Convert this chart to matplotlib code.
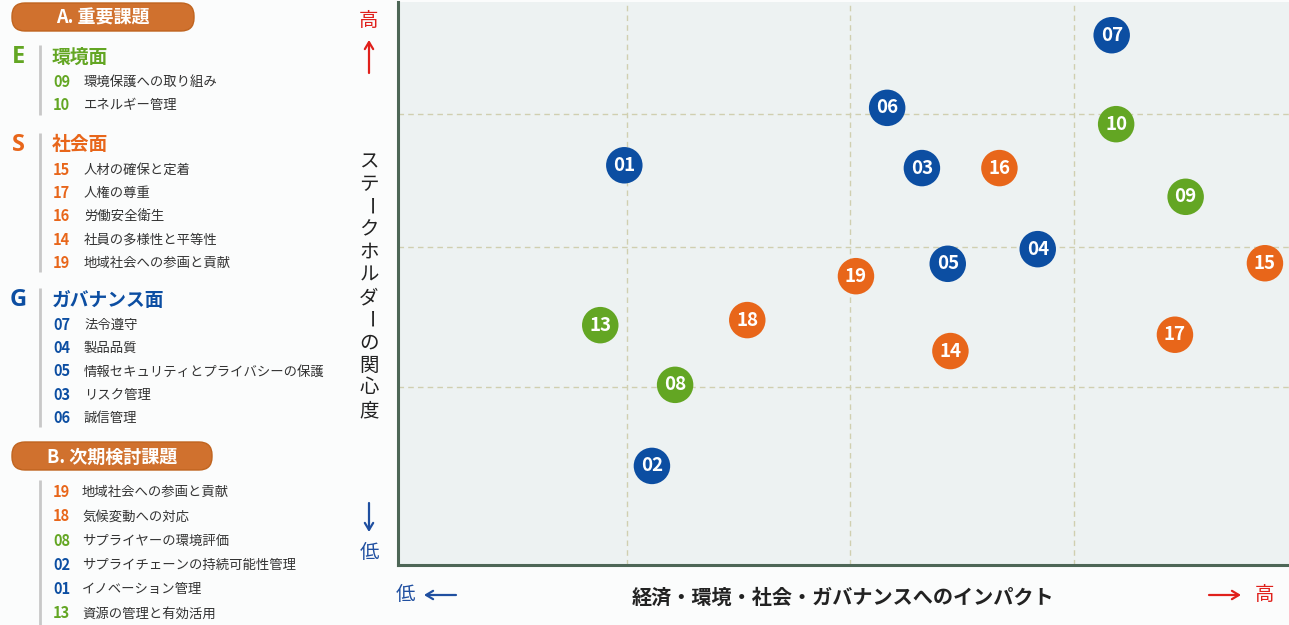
import matplotlib.pyplot as plt
from matplotlib.patches import FancyBboxPatch

plt.rcParams['font.family'] = ['Noto Sans CJK JP', 'DejaVu Sans']

# --- data -------------------------------------------------------------
issue_ids = ['07', '06', '10', '01', '03', '16', '09', '04', '05',
             '15', '19', '13', '18', '17', '14', '08', '02']
impact = [80.1, 54.9, 80.6, 25.4, 58.8, 67.5, 88.4, 71.8, 61.7,
          97.3, 51.4, 22.7, 39.2, 87.2, 62.0, 31.1, 28.5]
concern = [94.1, 81.2, 78.3, 71.0, 70.5, 70.5, 65.4, 56.1, 53.5,
           53.6, 51.3, 42.6, 43.5, 40.9, 38.0, 32.0, 17.6]
issue_cat = ['G', 'G', 'E', 'G', 'G', 'S', 'E', 'G', 'G',
             'S', 'S', 'E', 'S', 'S', 'S', 'E', 'G']

grid_x = [25.7, 50.7, 75.9]
grid_y = [31.6, 56.5, 80.1]

cat_colors = {'E': '#63a623', 'S': '#e8661a', 'G': '#0c4ea2'}

e_nums = ['09', '10']
e_items = ['環境保護への取り組み', 'エネルギー管理']
s_nums = ['15', '17', '16', '14', '19']
s_items = ['人材の確保と定着', '人権の尊重', '労働安全衛生',
           '社員の多様性と平等性', '地域社会への参画と貢献']
g_nums = ['07', '04', '05', '03', '06']
g_items = ['法令遵守', '製品品質', '情報セキュリティとプライバシーの保護',
           'リスク管理', '誠信管理']
b_nums = ['19', '18', '08', '02', '01', '13']
b_cats = ['S', 'S', 'E', 'G', 'G', 'E']
b_items = ['地域社会への参画と貢献', '気候変動への対応', 'サプライヤーの環境評価',
           'サプライチェーンの持続可能性管理', 'イノベーション管理', '資源の管理と有効活用']

y_label = 'ステークホルダーの関心度'
x_label = '経済・環境・社会・ガバナンスへのインパクト'

# --- figure -----------------------------------------------------------
W, H = 1289, 625
fig = plt.figure(figsize=(W / 100, H / 100), dpi=100)
fig.set_facecolor('#fbfcfc')

# overlay in pixel units for the side panel and labels
ov = fig.add_axes([0, 0, 1, 1])
ov.set_xlim(0, W)
ov.set_ylim(H, 0)
ov.axis('off')

text_col = '#333333'
red = '#e0201b'
blue = '#1f4fa0'


def pill(x0, y0, w, h, label):
    ov.add_patch(FancyBboxPatch((x0, y0), w, h,
                                boxstyle='round,pad=0,rounding_size=13',
                                fc='#d0712e', ec='#c0641f', lw=1))
    ov.text(x0 + w / 2, y0 + h / 2 + 1, label, color='white',
            fontsize=13, fontweight='bold', ha='center', va='center')


def section(letter, title, y, nums, items, col):
    ov.text(18, y, letter, color=col, fontsize=17, fontweight='bold',
            ha='center', va='center', family=['Open Sans', 'DejaVu Sans'])
    ov.text(52, y, title, color=col, fontsize=13.5, fontweight='bold',
            va='center')
    ov.plot([40, 40], [y - 12, y + 12 + 23 * len(nums)], color='#c8c8c8',
            lw=2, solid_capstyle='butt')
    for i, (n, t) in enumerate(zip(nums, items)):
        yy = y + 25 + 23.2 * i
        ov.text(53, yy, n, color=col, fontsize=10.5, fontweight='bold',
                va='center')
        ov.text(84, yy, t, color=text_col, fontsize=9.6, va='center')


pill(12, 3, 182, 28, 'A. 重要課題')
section('E', '環境面', 57, e_nums, e_items, cat_colors['E'])
section('S', '社会面', 145, s_nums, s_items, cat_colors['S'])
section('G', 'ガバナンス面', 300, g_nums, g_items, cat_colors['G'])

pill(12, 442, 200, 28, 'B. 次期検討課題')
ov.plot([40, 40], [480, 625], color='#c8c8c8', lw=2, solid_capstyle='butt')
for i, (n, c, t) in enumerate(zip(b_nums, b_cats, b_items)):
    yy = 492 + 24.3 * i
    ov.text(53, yy, n, color=cat_colors[c], fontsize=10.5, fontweight='bold',
            va='center')
    ov.text(82, yy, t, color=text_col, fontsize=9.6, va='center')

# axis annotations
arrow = dict(arrowstyle='->,head_length=0.5,head_width=0.3', lw=1.6,
             shrinkA=0, shrinkB=0)
ov.text(369, 20, '高', color=red, fontsize=14, ha='center', va='center')
ov.annotate('', xy=(369, 40), xytext=(369, 73),
            arrowprops=dict(arrow, color=red))
ov.annotate('', xy=(369, 532), xytext=(369, 503),
            arrowprops=dict(arrow, color=blue))
ov.text(369, 553, '低', color=blue, fontsize=14, ha='center', va='center')
for i, ch in enumerate(y_label):
    ov.text(369, 162 + 22.6 * i, ch, color='#222222', fontsize=14,
            ha='center', va='center',
            rotation=-90 if ch == 'ー' else 0)

ov.text(405, 595, '低', color=blue, fontsize=14, ha='center', va='center')
ov.annotate('', xy=(424, 595), xytext=(456, 595),
            arrowprops=dict(arrow, color=blue))
ov.text(843, 597, x_label, color='#222222', fontsize=14.5, fontweight='bold',
        ha='center', va='center')
ov.annotate('', xy=(1241, 595), xytext=(1209, 595),
            arrowprops=dict(arrow, color=red))
ov.text(1264, 595, '高', color=red, fontsize=14, ha='center', va='center')

# --- matrix -----------------------------------------------------------
ax = fig.add_axes([398 / W, 60 / H, (W - 398) / W, 563 / H])
ax.set_facecolor('#edf2f2')
ax.set_xlim(0, 100)
ax.set_ylim(0, 100)
for g in grid_x:
    ax.axvline(g, color='#d0cfb0', lw=1, ls=(0, (4, 3)), zorder=1)
for g in grid_y:
    ax.axhline(g, color='#d0cfb0', lw=1, ls=(0, (4, 3)), zorder=1)
for side in ['top', 'right']:
    ax.spines[side].set_visible(False)
for side in ['left', 'bottom']:
    ax.spines[side].set_color('#4d6656')
    ax.spines[side].set_linewidth(2.2)
ax.set_xticks([])
ax.set_yticks([])

ax.scatter(impact, concern, s=690, c=[cat_colors[c] for c in issue_cat],
           edgecolors='none', zorder=3, clip_on=False)
for n, x, y in zip(issue_ids, impact, concern):
    ax.text(x, y, n, color='white', fontsize=13.5, fontweight='bold',
            ha='center', va='center', zorder=4)

fig.savefig('out.png', dpi=100, facecolor=fig.get_facecolor())
